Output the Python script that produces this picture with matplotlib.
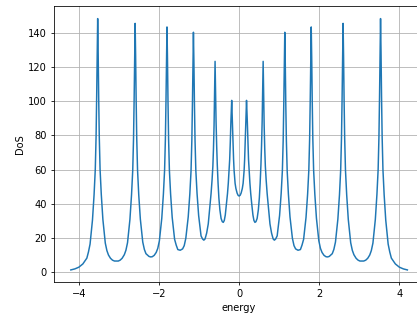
import matplotlib
matplotlib.use("Agg")
import matplotlib.pyplot as plt

# density of states sampled along the energy axis
energy = [
    -4.20, -4.10, -4.00, -3.90, -3.80, -3.76, -3.72, -3.66, -3.62, -3.59,
    -3.57, -3.555, -3.542, -3.53, -3.518, -3.505, -3.49, -3.47, -3.44, -3.40,
    -3.34, -3.30, -3.26, -3.21, -3.16, -3.11, -3.06, -3.015, -2.97, -2.92,
    -2.865, -2.825, -2.785, -2.725, -2.685, -2.655, -2.635, -2.62, -2.607, -2.595,
    -2.583, -2.57, -2.555, -2.535, -2.505, -2.465, -2.405, -2.365, -2.325, -2.25,
    -2.21, -2.17, -2.12, -2.07, -2.03, -1.99, -1.93, -1.89, -1.86, -1.84,
    -1.825, -1.812, -1.80, -1.788, -1.775, -1.76, -1.74, -1.71, -1.67, -1.61,
    -1.57, -1.53, -1.47, -1.41, -1.37, -1.33, -1.27, -1.23, -1.20, -1.18,
    -1.165, -1.152, -1.14, -1.128, -1.115, -1.10, -1.08, -1.05, -1.01, -0.95,
    -0.91, -0.88, -0.85, -0.81, -0.77, -0.73, -0.70, -0.675, -0.655, -0.64,
    -0.625, -0.612, -0.60, -0.588, -0.575, -0.56, -0.545, -0.525, -0.505, -0.48,
    -0.45, -0.42, -0.395, -0.37, -0.345, -0.315, -0.29, -0.27, -0.25, -0.235,
    -0.22, -0.205, -0.185, -0.168, -0.152, -0.138, -0.125, -0.10, -0.08, -0.05,
    -0.025, 0.00, 0.025, 0.05, 0.08, 0.10, 0.125, 0.138, 0.152, 0.168,
    0.185, 0.205, 0.22, 0.235, 0.25, 0.27, 0.29, 0.315, 0.345, 0.37,
    0.395, 0.42, 0.45, 0.48, 0.505, 0.525, 0.545, 0.56, 0.575, 0.588,
    0.60, 0.612, 0.625, 0.64, 0.655, 0.675, 0.70, 0.73, 0.77, 0.81,
    0.85, 0.88, 0.91, 0.95, 1.01, 1.05, 1.08, 1.10, 1.115, 1.128,
    1.14, 1.152, 1.165, 1.18, 1.20, 1.23, 1.27, 1.33, 1.37, 1.41,
    1.47, 1.53, 1.57, 1.61, 1.67, 1.71, 1.74, 1.76, 1.775, 1.788,
    1.80, 1.812, 1.825, 1.84, 1.86, 1.89, 1.93, 1.99, 2.03, 2.07,
    2.12, 2.17, 2.21, 2.25, 2.325, 2.365, 2.405, 2.465, 2.505, 2.535,
    2.555, 2.57, 2.583, 2.595, 2.607, 2.62, 2.635, 2.655, 2.685, 2.725,
    2.785, 2.825, 2.865, 2.92, 2.97, 3.015, 3.06, 3.11, 3.16, 3.21,
    3.26, 3.30, 3.34, 3.40, 3.44, 3.47, 3.49, 3.505, 3.518, 3.53,
    3.542, 3.555, 3.57, 3.59, 3.62, 3.66, 3.72, 3.76, 3.80, 3.90,
    4.00, 4.10, 4.20,
]
dos = [
    1.4, 2.0, 3.0, 4.9, 8.3, 11.9, 16.5, 30.5, 45.3, 60.0,
    79.1, 102.7, 129.2, 148.3, 129.2, 102.7, 79.2, 60.1, 45.6, 30.9,
    17.1, 12.7, 10.1, 8.2, 7.1, 6.6, 6.6, 6.6, 7.1, 8.2,
    10.3, 12.9, 17.3, 30.9, 45.3, 59.6, 78.2, 101.2, 126.9, 145.5,
    126.9, 101.2, 78.3, 59.8, 45.3, 31.1, 17.7, 13.4, 10.9, 9.3,
    9.0, 9.1, 9.9, 11.6, 14.0, 18.4, 31.6, 45.6, 59.6, 77.8,
    100.2, 125.4, 143.4, 125.4, 100.2, 77.8, 59.7, 45.8, 32.1, 19.3,
    15.9, 13.3, 12.9, 13.7, 15.6, 19.9, 32.4, 45.8, 59.2, 76.8,
    98.4, 122.7, 140.3, 122.8, 98.5, 77.0, 59.5, 46.2, 33.2, 21.3,
    19.4, 18.8, 19.5, 22.9, 28.3, 38.4, 46.0, 54.0, 62.0, 72.0,
    86.0, 105.0, 123.3, 105.0, 88.0, 74.0, 63.0, 52.0, 43.5, 36.5,
    31.5, 29.6, 29.2, 30.3, 33.5, 40.0, 46.0, 52.0, 59.5, 66.0,
    76.0, 88.0, 100.5, 88.0, 76.0, 66.0, 59.5, 52.0, 49.0, 46.3,
    45.0, 44.6, 45.0, 46.3, 49.0, 52.0, 59.5, 66.0, 76.0, 88.0,
    100.5, 88.0, 76.0, 66.0, 59.5, 52.0, 46.0, 40.0, 33.5, 30.3,
    29.2, 29.6, 31.5, 36.5, 43.5, 52.0, 63.0, 74.0, 88.0, 105.0,
    123.3, 105.0, 86.0, 72.0, 62.0, 54.0, 46.0, 38.4, 28.3, 22.9,
    19.5, 18.8, 19.4, 21.3, 33.2, 46.2, 59.5, 77.0, 98.5, 122.8,
    140.3, 122.7, 98.4, 76.8, 59.2, 45.8, 32.4, 19.9, 15.6, 13.7,
    12.9, 13.3, 15.9, 19.3, 32.1, 45.8, 59.7, 77.8, 100.2, 125.4,
    143.4, 125.4, 100.2, 77.8, 59.6, 45.6, 31.6, 18.4, 14.0, 11.6,
    9.9, 9.1, 9.0, 9.3, 10.9, 13.4, 17.7, 31.1, 45.3, 59.8,
    78.3, 101.2, 126.9, 145.5, 126.9, 101.2, 78.2, 59.6, 45.3, 30.9,
    17.3, 12.9, 10.3, 8.2, 7.1, 6.6, 6.6, 6.6, 7.1, 8.2,
    10.1, 12.7, 17.1, 30.9, 45.6, 60.1, 79.2, 102.7, 129.2, 148.3,
    129.2, 102.7, 79.1, 60.0, 45.3, 30.5, 16.5, 11.9, 8.3, 4.9,
    3.0, 2.0, 1.4,
]

plt.rcParams.update({
    "font.size": 11,
    "lines.linewidth": 1.65,
    "axes.linewidth": 0.88,
    "grid.linewidth": 0.88,
    "xtick.major.size": 3.85,
    "ytick.major.size": 3.85,
    "xtick.major.width": 0.88,
    "ytick.major.width": 0.88,
    "xtick.major.pad": 3.85,
    "ytick.major.pad": 3.85,
})

fig = plt.figure(figsize=(417 / 65, 323 / 65), dpi=65)
ax = fig.add_axes([0.1295, 0.1254, 0.8878, 0.856])

ax.plot(energy, dos)
ax.set_xlabel("energy")
ax.set_ylabel("DoS")
ax.grid(True)

fig.savefig("out.png", dpi=65)
